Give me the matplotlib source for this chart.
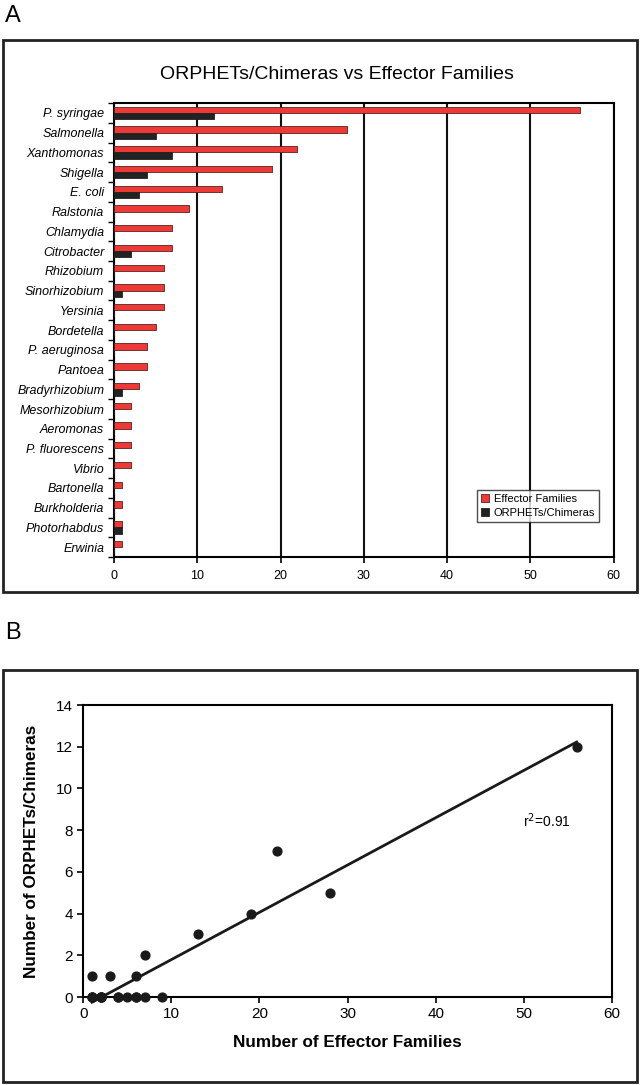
import numpy as np
import matplotlib
matplotlib.use("Agg")
import matplotlib.pyplot as plt
from matplotlib.patches import Rectangle

species = ["P. syringae", "Salmonella", "Xanthomonas", "Shigella", "E. coli",
           "Ralstonia", "Chlamydia", "Citrobacter", "Rhizobium", "Sinorhizobium",
           "Yersinia", "Bordetella", "P. aeruginosa", "Pantoea", "Bradyrhizobium",
           "Mesorhizobium", "Aeromonas", "P. fluorescens", "Vibrio", "Bartonella",
           "Burkholderia", "Photorhabdus", "Erwinia"]
effector_families = [56, 28, 22, 19, 13, 9, 7, 7, 6, 6, 6, 5, 4, 4, 3, 2, 2, 2, 2, 1, 1, 1, 1]
orphets_chimeras = [12, 5, 7, 4, 3, 0, 0, 2, 0, 1, 0, 0, 0, 0, 1, 0, 0, 0, 0, 0, 0, 1, 0]
r2_text = "r$^2$=0.91"

plt.rcParams['font.family'] = ['Liberation Sans', 'DejaVu Sans']

fig = plt.figure(figsize=(6.4, 10.85), dpi=100)

# panel frames
fig.patches.append(Rectangle((0.004, 0.4544), 0.991, 0.5086, transform=fig.transFigure,
                             fill=False, lw=2, ec='#222222'))
fig.patches.append(Rectangle((0.004, 0.0028), 0.991, 0.3797, transform=fig.transFigure,
                             fill=False, lw=2, ec='#222222'))
fig.text(0.008, 0.985, "A", fontsize=17, va='center', ha='left')
fig.text(0.008, 0.417, "B", fontsize=17, va='center', ha='left')

# ---- panel A ----
ax = fig.add_axes([0.178, 0.4866, 0.781, 0.4184])
y = np.arange(len(species))
h = 0.32
ax.barh(y - h / 2, effector_families, height=h, color='#ee3a36', edgecolor='#5a2020',
        lw=0.6, label='Effector Families', zorder=3)
ax.barh(y + h / 2, orphets_chimeras, height=h, color='#222222', edgecolor='#222222',
        lw=0.6, label='ORPHETs/Chimeras', zorder=3)
ax.set_ylim(len(species) - 0.5, -0.5)
ax.set_xlim(0, 60)
ax.set_xticks(range(0, 61, 10))
ax.set_yticks(y)
ax.set_yticklabels(species, fontstyle='italic', fontsize=9)
ax.set_yticks(np.arange(-0.5, len(species), 1), minor=True)
ax.tick_params(axis='y', which='major', length=0, pad=7)
ax.tick_params(axis='y', which='minor', length=4, direction='out', width=1)
ax.tick_params(axis='x', length=4, direction='out', width=1.2, labelsize=9, pad=5)
ax.grid(axis='x', color='#111111', lw=1.5, zorder=1)
for s in ax.spines.values():
    s.set_linewidth(1.5)
fig.text(0.527, 0.931, "ORPHETs/Chimeras vs Effector Families", fontsize=14,
         ha='center', va='center')
leg = ax.legend(loc='lower right', bbox_to_anchor=(0.982, 0.066), fontsize=8,
                frameon=True, fancybox=False, edgecolor='#222222',
                handlelength=0.8, handleheight=0.8, handletextpad=0.4,
                borderpad=0.35, labelspacing=0.35)
leg.get_frame().set_linewidth(1)

# ---- panel B ----
bx = fig.add_axes([0.130, 0.0811, 0.826, 0.2691])
xv = np.array(effector_families, dtype=float)
yv = np.array(orphets_chimeras, dtype=float)
bx.scatter(xv, yv, s=40, color='#1a1a1a', zorder=3, clip_on=False)
m, c = np.polyfit(xv, yv, 1)
xl = np.array([xv.min(), xv.max()])
bx.plot(xl, m * xl + c, color='#1a1a1a', lw=2, zorder=2, clip_on=False)
bx.set_xlim(0, 60)
bx.set_ylim(0, 14)
bx.set_xticks(range(0, 61, 10))
bx.set_yticks(range(0, 15, 2))
bx.tick_params(length=4, direction='out', width=1.2, labelsize=11)
for s in bx.spines.values():
    s.set_linewidth(1.5)
bx.set_xlabel("Number of Effector Families", fontweight='bold', fontsize=12.3, labelpad=10)
bx.set_ylabel("Number of ORPHETs/Chimeras", fontweight='bold', fontsize=12.3, labelpad=12)
bx.text(52.6, 8.45, r2_text, fontsize=10, ha='center', va='center')

fig.savefig("out.png", dpi=100)
